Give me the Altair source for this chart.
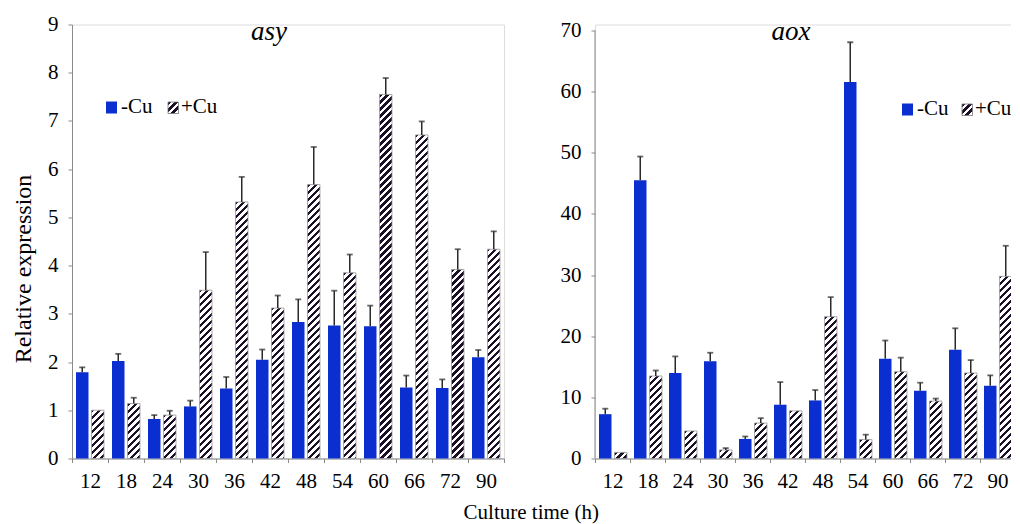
import altair as alt
import pandas as pd

times = ["12", "18", "24", "30", "36", "42", "48", "54", "60", "66", "72", "90"]
conds = ["-Cu", "+Cu"]

asy_minus = [1.79, 2.02, 0.82, 1.08, 1.45, 2.05, 2.83, 2.76, 2.74, 1.47, 1.46, 2.10]
asy_minus_err = [0.10, 0.15, 0.08, 0.12, 0.24, 0.21, 0.47, 0.72, 0.43, 0.25, 0.18, 0.15]
asy_plus = [1.00, 1.14, 0.90, 3.49, 5.32, 3.12, 5.68, 3.85, 7.55, 6.71, 3.92, 4.34]
asy_plus_err = [None, 0.12, 0.09, 0.79, 0.52, 0.26, 0.78, 0.38, 0.34, 0.28, 0.42, 0.37]

aox_minus = [7.25, 45.5, 14.0, 15.9, 3.2, 8.8, 9.5, 61.6, 16.3, 11.1, 17.8, 11.9]
aox_minus_err = [0.9, 3.9, 2.7, 1.4, 0.4, 3.7, 1.7, 6.5, 3.0, 1.3, 3.5, 1.7]
aox_plus = [1.0, 13.5, 4.5, 1.4, 5.8, 7.8, 23.2, 3.1, 14.2, 9.4, 14.0, 29.8]
aox_plus_err = [None, 0.9, None, 0.3, 0.8, None, 3.2, 0.8, 2.3, 0.4, 2.1, 5.0]

asy_ticks = [0, 1, 2, 3, 4, 5, 6, 7, 8, 9]
aox_ticks = [0, 10, 20, 30, 40, 50, 60, 70]

FONT = "Times New Roman, Liberation Serif, DejaVu Serif, serif"
BLUE = "#0a2ed0"
DARK = "#1c1028"
LIGHT = "#ffffff"
AXIS_GRAY = "#8a8a8a"
PLOT_H = 434
BAR_W = 12.5
K = 1.0
PERIOD = 7.0
DARK_FRAC = 0.45


def hatch(W, H):
    S = W * K + H
    lam = S / (W * W * K * K + H * H)
    stops = []
    pos = 0.0
    while pos < S:
        a = round(pos / S, 5)
        b = round(min(pos + PERIOD * DARK_FRAC, S) / S, 5)
        c = round(min(pos + PERIOD, S) / S, 5)
        stops += [
            {"offset": a, "color": DARK},
            {"offset": b, "color": DARK},
            {"offset": b, "color": LIGHT},
            {"offset": c, "color": LIGHT},
        ]
        pos += PERIOD
    return {"gradient": "linear", "x1": 0, "y1": 0,
            "x2": round(lam * W * K, 5), "y2": round(lam * H, 5), "stops": stops}


def panel(minus, minus_err, plus, plus_err, ymax, ticks, width, title,
          tpos, leg, ytitle, manual_ydomain):
    px = PLOT_H / ymax
    rows = []
    for i, t in enumerate(times):
        for c, v, e in (("-Cu", minus[i], minus_err[i]), ("+Cu", plus[i], plus_err[i])):
            rows.append({"time": t, "cond": c, "value": v,
                         "top": (v + e) if e is not None else None})
    df = pd.DataFrame(rows)

    x = alt.X("time:N", sort=times,
              scale=alt.Scale(domain=times, paddingInner=0, paddingOuter=0),
              axis=alt.Axis(title=None, labelAngle=0, labelFont=FONT, labelFontSize=21,
                            labelColor="black", labelPadding=8, tickSize=4,
                            tickColor=AXIS_GRAY, domainColor=AXIS_GRAY, grid=False,
                            tickBand="extent"))
    xo = alt.XOffset("cond:N", sort=conds,
                     scale=alt.Scale(domain=conds, paddingInner=0.194, paddingOuter=0.258))
    yaxis = dict(values=ticks, labelFont=FONT, labelFontSize=21, labelColor="black",
                 labelPadding=10, tickSize=4, tickColor=AXIS_GRAY,
                 domainColor=AXIS_GRAY, grid=False, domain=not manual_ydomain)
    if ytitle:
        yaxis.update(title=ytitle, titleFont=FONT, titleFontSize=24,
                     titleFontWeight="normal", titleColor="black",
                     titleX=-49, titleY=244, titleAngle=-90,
                     titleAlign="center", titleBaseline="middle")
    else:
        yaxis.update(title=None)
    y = alt.Y("value:Q", scale=alt.Scale(domain=[0, ymax], nice=False, zero=True),
              axis=alt.Axis(**yaxis))

    base = alt.Chart(df).encode(x=x, xOffset=xo)
    layers = [base.transform_filter(alt.datum.cond == "-Cu")
              .mark_bar(color=BLUE).encode(y=y)]
    for i, t in enumerate(times):
        layers.append(
            base.transform_filter((alt.datum.cond == "+Cu") & (alt.datum.time == t))
            .mark_bar(fill=hatch(BAR_W, plus[i] * px), stroke="#9a9a9a",
                      strokeWidth=0.8)
            .encode(y=y))
    err = base.transform_filter("isValid(datum.top)")
    layers.append(err.mark_rule(color="#2a2a2a", strokeWidth=1.5)
                  .encode(y="value:Q", y2="top:Q"))
    layers.append(err.mark_tick(color="#2a2a2a", size=6, thickness=1.8)
                  .encode(y="top:Q"))
    if manual_ydomain:
        dom = pd.DataFrame({"a": [0], "b": [ticks[-1]]})
        layers.append(alt.Chart(dom).mark_rule(color=AXIS_GRAY, strokeWidth=1)
                      .encode(x=alt.value(0), y="a:Q", y2="b:Q"))

    one = pd.DataFrame({"t": [title]})
    layers.append(alt.Chart(one).mark_text(font=FONT, fontStyle="italic", fontSize=27,
                                           align="center", baseline="middle",
                                           color="black")
                  .encode(text="t:N", x=alt.value(tpos[0]), y=alt.value(tpos[1])))

    lx, ly, hx = leg
    legdf = pd.DataFrame({"l": ["-Cu"]})
    legdf2 = pd.DataFrame({"l": ["+Cu"]})
    layers.append(alt.Chart(legdf).mark_rect(color=BLUE)
                  .encode(x=alt.value(lx), x2=alt.value(lx + 11),
                          y=alt.value(ly), y2=alt.value(ly + 12)))
    layers.append(alt.Chart(legdf).mark_text(font=FONT, fontSize=21, align="left",
                                             baseline="middle", color="black")
                  .encode(text="l:N", x=alt.value(lx + 15), y=alt.value(ly + 5)))
    layers.append(alt.Chart(legdf2).mark_rect(fill=hatch(10.5, 11.5), stroke="#777777",
                                              strokeWidth=0.8)
                  .encode(x=alt.value(hx), x2=alt.value(hx + 10.5),
                          y=alt.value(ly + 0.5), y2=alt.value(ly + 12)))
    layers.append(alt.Chart(legdf2).mark_text(font=FONT, fontSize=21, align="left",
                                              baseline="middle", color="black")
                  .encode(text="l:N", x=alt.value(hx + 13), y=alt.value(ly + 5)))

    return alt.layer(*layers).properties(width=width, height=PLOT_H)


left = panel(asy_minus, asy_minus_err, asy_plus, asy_plus_err, 9, asy_ticks, 432,
             "asy", (197, 7), (34, 77, 96), "Relative expression", False)
right = panel(aox_minus, aox_minus_err, aox_plus, aox_plus_err, 71, aox_ticks, 420,
              "aox", (196, 7), (307, 79, 367), None, True)

chart = alt.hconcat(left, right, spacing=54).properties(
    padding={"left": 2, "top": 4.5, "right": -5, "bottom": 0},
    title=alt.TitleParams("Culture time (h)", orient="bottom", anchor="middle",
                          font=FONT, fontSize=21, fontWeight="normal",
                          color="black", offset=10, dx=18),
).configure_view(stroke=None).configure(background="white")

chart.save("out.html", embed_options={"renderer": "svg", "actions": False})
